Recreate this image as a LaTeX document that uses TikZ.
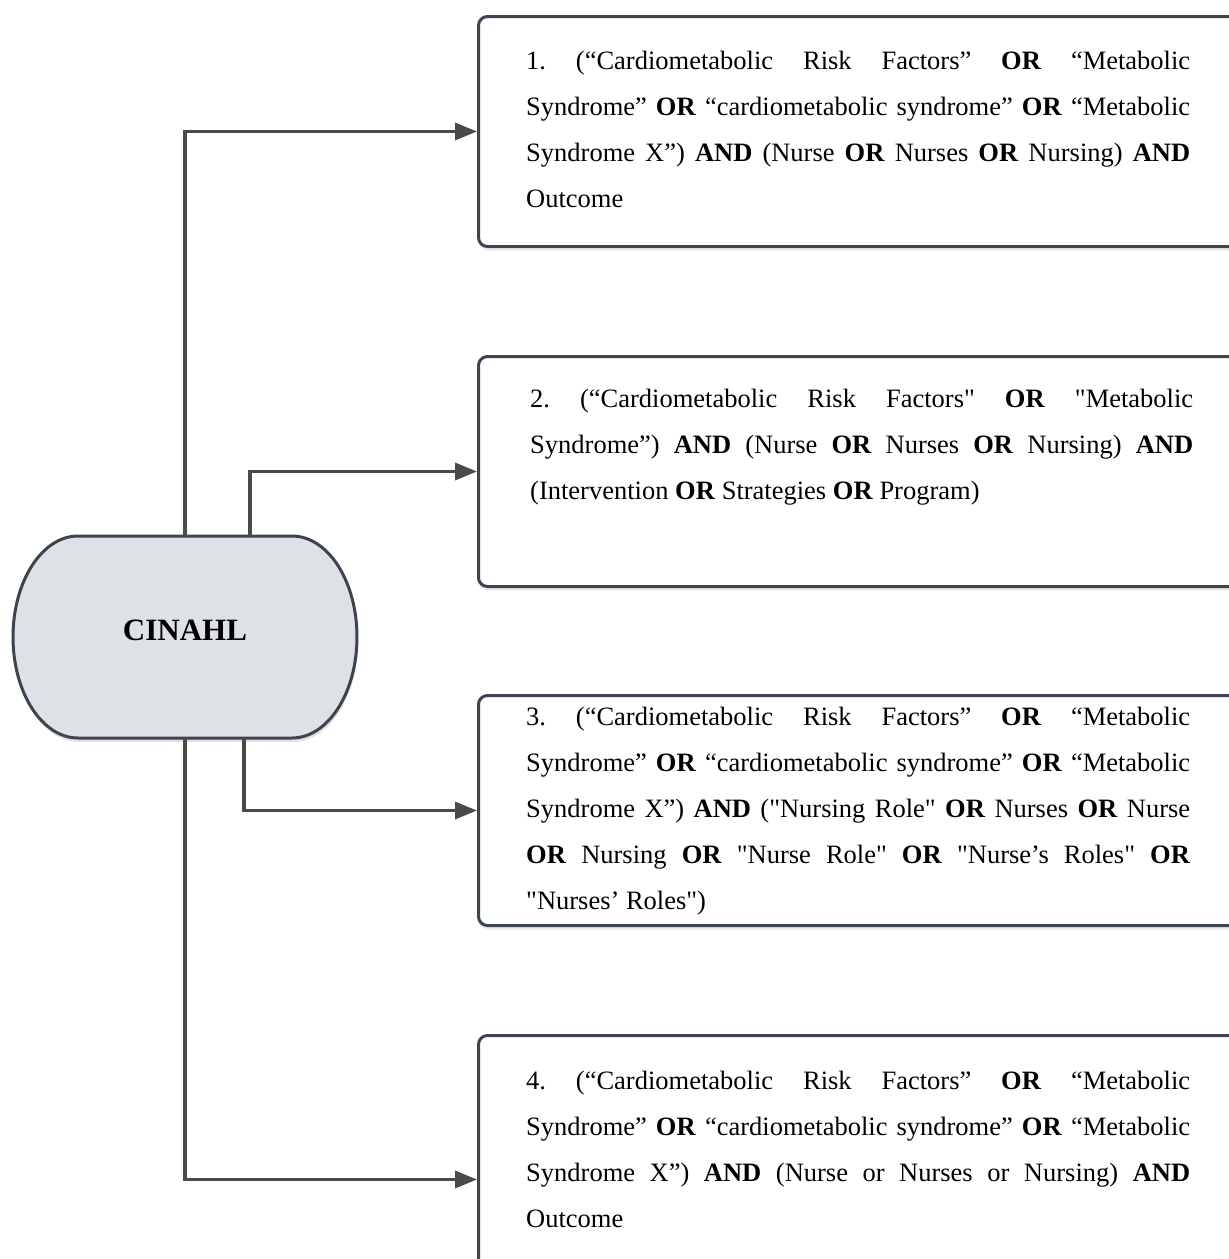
\documentclass[tikz,border=0pt]{standalone}
\usepackage{fontspec}
\setmainfont{Liberation Serif}
\usetikzlibrary{arrows.meta,shadows}
\definecolor{edgegray}{HTML}{3C4450}
\definecolor{linkgray}{HTML}{4A4A4A}
\definecolor{dbfill}{HTML}{DEE1E6}
\newcommand{\dq}{\textquotedbl}
\frenchspacing

\begin{document}
\begin{tikzpicture}
  [x=1pt,y=1pt,
   qbox/.style={draw=edgegray,line width=3pt,rounded corners=9pt,fill=white,
     minimum width=800pt,anchor=north west,
     drop shadow={shadow xshift=1pt,shadow yshift=-4pt,opacity=.15}},
   qtext/.style={anchor=north west,inner sep=0pt,text width=664pt,align=justify,
     font=\fontsize{26.5}{46}\selectfont},
   link/.style={draw=linkgray,line width=3.5pt,-{Triangle[length=22pt,width=17pt]}}]
  \path[use as bounding box,clip] (0,0) rectangle (1229,-1259);

  % database
  \fill[black,opacity=.12,xshift=1pt,yshift=-4pt] (78,-536) -- (292,-536)
    arc[start angle=90,end angle=-90,x radius=65,y radius=101] -- (78,-738)
    arc[start angle=270,end angle=90,x radius=65,y radius=101] -- cycle;
  \filldraw[fill=dbfill,draw=edgegray,line width=3pt] (78,-536) -- (292,-536)
    arc[start angle=90,end angle=-90,x radius=65,y radius=101] -- (78,-738)
    arc[start angle=270,end angle=90,x radius=65,y radius=101] -- cycle;
  \node[minimum width=344pt,minimum height=202pt,text depth=14pt,
    font=\fontsize{31}{31}\selectfont\bfseries] (db) at (185,-637) {CINAHL};

  % search boxes
  \node[qbox,minimum height=230pt] (q1) at (477,-15) {};
  \node[qbox,minimum height=230pt] (q2) at (477,-355) {};
  \node[qbox,minimum height=230pt] (q3) at (477,-694) {};
  \node[qbox,minimum height=288pt] (q4) at (477,-1034) {};

  \node[qtext] (t1) at (526,-36.8) {\strut 1. (“Cardiometabolic Risk Factors” \textbf{OR} “Metabolic\linebreak
    Syndrome” \textbf{OR} “cardiometabolic syndrome” \textbf{OR} “Metabolic\linebreak
    Syndrome X”) \textbf{AND} (Nurse \textbf{OR} Nurses \textbf{OR} Nursing) \textbf{AND}\linebreak
    Outcome};
  \node[qtext,text width=663pt] (t2) at (530,-374.8) {\strut 2. (“Cardiometabolic Risk Factors\dq{} \textbf{OR} \dq{}Metabolic\linebreak
    Syndrome”) \textbf{AND} (Nurse \textbf{OR} Nurses \textbf{OR} Nursing) \textbf{AND}\linebreak
    (Intervention \textbf{OR} Strategies \textbf{OR} Program)};
  \node[qtext] (t3) at (526,-692.8) {\strut 3. (“Cardiometabolic Risk Factors” \textbf{OR} “Metabolic\linebreak
    Syndrome” \textbf{OR} “cardiometabolic syndrome” \textbf{OR} “Metabolic\linebreak
    Syndrome X”) \textbf{AND} (\dq{}Nursing Role\dq{} \textbf{OR} Nurses \textbf{OR} Nurse\linebreak
    \textbf{OR} Nursing \textbf{OR} \dq{}Nurse Role\dq{} \textbf{OR} \dq{}Nurse’s Roles\dq{} \textbf{OR}\linebreak
    \dq{}Nurses’ Roles\dq{})};
  \node[qtext] (t4) at (526,-1056.8) {\strut 4. (“Cardiometabolic Risk Factors” \textbf{OR} “Metabolic\linebreak
    Syndrome” \textbf{OR} “cardiometabolic syndrome” \textbf{OR} “Metabolic\linebreak
    Syndrome X”) \textbf{AND} (Nurse or Nurses or Nursing) \textbf{AND}\linebreak
    Outcome};

  \draw[link] (db.north) |- (q1.west);
  \draw[link] ([xshift=65pt]db.north) |- (q2.west);
  \draw[link] ([xshift=59pt]db.south) |- (q3.west);
  \draw[link] (db.south) |- (q4.west);

\end{tikzpicture}
\end{document}
